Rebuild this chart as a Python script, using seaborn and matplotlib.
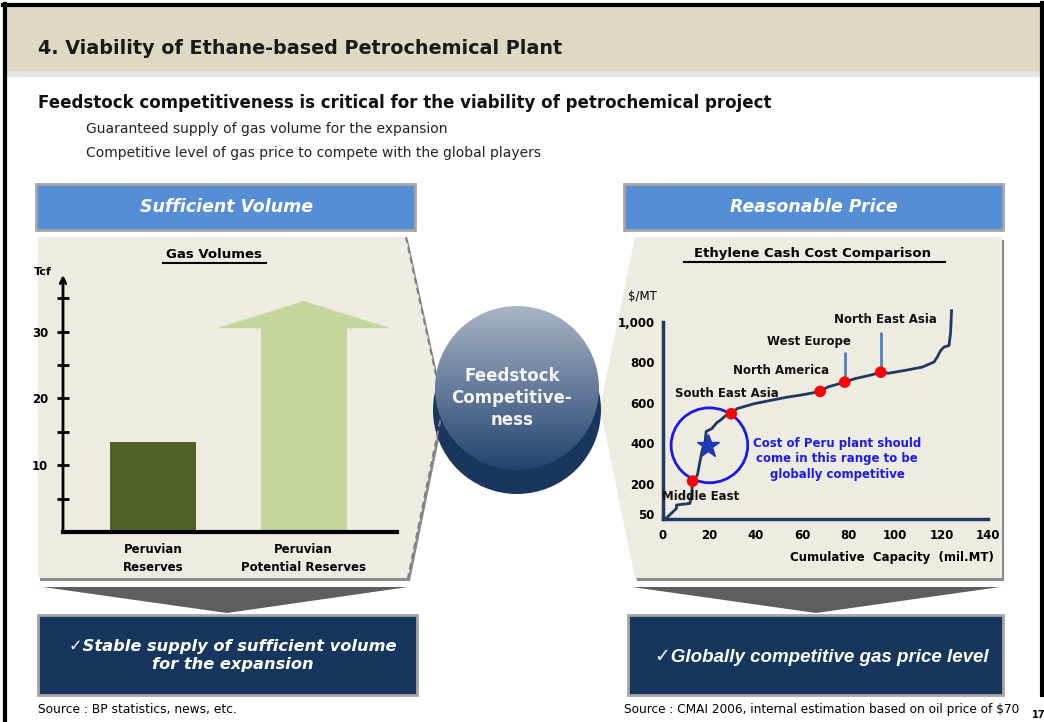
import numpy as np
import matplotlib.pyplot as plt
import seaborn as sns
from matplotlib.patches import Polygon, Rectangle, Circle, Ellipse

W, H = 1044, 722

# ---- data: gas volumes (Tcf) ----
gas_labels = ['Peruvian\nReserves', 'Peruvian\nPotential Reserves']
gas_tcf = [13.5, 30.5]
potential_tip = 34.6
gas_major_ticks = [10, 20, 30]
gas_minor_ticks = [5, 15, 25, 35]

# ---- data: ethylene cash cost curve ($/MT vs mil.MT) ----
cum_capacity = [1.5, 5.8, 5.8, 11.6, 12.3, 12.75, 14.8, 15.9, 16.7, 18.1, 18.6, 21.0,
                23.2, 24.6, 27.5, 29.4, 31.9, 39.1, 46.4, 53.6, 60.9, 67.7, 71.0, 78.3,
                82.6, 89.9, 93.8, 97.1, 104.3, 111.6, 116.7, 118.1, 119.6, 121.0,
                123.2, 123.9, 124.3]
cash_cost = [30, 77, 94, 102, 143, 212, 241, 307, 356, 406, 458, 471,
             501, 512, 540, 545, 570, 594, 611, 627, 640, 655, 677, 701,
             718, 737, 750, 745, 759, 775, 800, 824, 857, 874,
             882, 947, 1054]
region_names = ['Middle East', 'South East Asia', 'North America', 'West Europe', 'North East Asia']
region_cap = [12.75, 29.4, 67.7, 78.3, 93.8]
region_cost = [212, 545, 655, 701, 750]
cost_ticks = [50, 200, 400, 600, 800, 1000]
cost_tick_labels = ['50', '200', '400', '600', '800', '1,000']
cap_ticks = [0, 20, 40, 60, 80, 100, 120, 140]

navy = '#17365D'
blue_box = '#558ED5'
beige = '#EEECE1'
dark_green = '#4F6228'
light_green = '#C3D69B'


def fbox(x0, y0, x1, y1):
    return [x0 / W, 1 - y1 / H, (x1 - x0) / W, (y1 - y0) / H]


fig = plt.figure(figsize=(W / 100, H / 100), dpi=100)
bg = fig.add_axes([0, 0, 1, 1])
bg.axis('off')

sans = ['Liberation Sans', 'DejaVu Sans']

# header
bg.add_patch(Rectangle((5, 6), 1036, 65, color='#DDD9C3', lw=0))
bg.add_patch(Rectangle((5, 71), 1036, 6, color='#E6E6E6', lw=0))
bg.text(38, 49, '4. Viability of Ethane-based Petrochemical Plant', fontsize=13.8,
        fontweight='bold', va='center', color='#1a1a1a')
bg.text(38, 103, 'Feedstock competitiveness is critical for the viability of petrochemical project',
        fontsize=12, fontweight='bold', va='center', color='#111111')
bg.text(86, 129, 'Guaranteed supply of gas volume for the expansion', fontsize=10,
        va='center', color='#222222')
bg.text(86, 153, 'Competitive level of gas price to compete with the global players', fontsize=10,
        va='center', color='#222222')

# blue header boxes
for x0, label in [(36, 'Sufficient Volume'), (624, 'Reasonable Price')]:
    bg.add_patch(Rectangle((x0, 184), 379, 46, facecolor=blue_box, edgecolor='#A6A6A6', lw=2))
    bg.text(x0 + 190, 207, label, fontsize=12.5, fontweight='bold', style='italic',
            color='white', ha='center', va='center', family='DejaVu Sans')

# panels with shadows
left_pts = [(38, 237), (406, 237), (443, 407), (408, 578), (38, 578)]
right_pts = [(635, 237), (1002, 237), (1002, 578), (635, 578), (600, 407)]
bg.add_patch(Polygon([(x + 2, y + 3) for x, y in left_pts], color='#8C8C8C', lw=0))
bg.add_patch(Polygon([(x + 2, y + 3) for x, y in right_pts], color='#8C8C8C', lw=0))
bg.add_patch(Polygon(left_pts, color=beige, lw=0))
bg.add_patch(Polygon(right_pts, color=beige, lw=0))
bg.plot([406, 443, 408], [237, 407, 578], ls=(0, (3, 2)), color='#7F7F7F', lw=1.5)

# centre button
bg.add_patch(Circle((517, 410), 84, color='#1A365E', lw=0))
grad = np.linspace(0, 1, 200)[:, None]
top_c = np.array([0.66, 0.71, 0.77])
bot_c = np.array([0.14, 0.26, 0.44])
img = (top_c * (1 - grad) + bot_c * grad)[:, None, :]
disc = Circle((517, 388), 82, transform=bg.transData)
im = bg.imshow(img, extent=(434, 600, 470, 306), origin='upper', aspect='auto', zorder=3)
im.set_clip_path(disc)
bg.text(512, 398, 'Feedstock\nCompetitive-\nness', fontsize=12, fontweight='bold',
        color='#F4F4F4', ha='center', va='center', linespacing=1.3, zorder=4,
        family='DejaVu Sans')

# chevrons
bg.add_patch(Polygon([(43, 587), (408, 587), (227, 613)], color='#5E5E5E', lw=0))
bg.add_patch(Polygon([(632, 587), (1000, 587), (816, 613)], color='#5E5E5E', lw=0))

# navy conclusion boxes
bg.add_patch(Rectangle((38, 615), 379, 80, facecolor=navy, edgecolor='#A6A6A6', lw=2))
bg.add_patch(Rectangle((628, 615), 375, 80, facecolor=navy, edgecolor='#A6A6A6', lw=2))
bg.text(233, 655, '\u2713Stable supply of sufficient volume\nfor the expansion', fontsize=11.7,
        fontweight='bold', style='italic', color='white', ha='center', va='center',
        linespacing=1.25, family='DejaVu Sans')
bg.text(822, 657, '\u2713Globally competitive gas price level', fontsize=13.5,
        fontweight='bold', style='italic', color='white', ha='center', va='center',
        family=sans)

# sources
bg.text(38, 709, 'Source : BP statistics, news, etc.', fontsize=8.8, va='center')
bg.text(624, 709, 'Source : CMAI 2006, internal estimation based on oil price of $70',
        fontsize=8.7, va='center')
bg.text(1032, 715, '17', fontsize=7, fontweight='bold', va='center')

# outer frame
bg.plot([4.5, 4.5], [4, H + 5], color='black', lw=3)
bg.plot([3, 1043], [4.5, 4.5], color='black', lw=3)
bg.plot([1042, 1042], [3, 695], color='black', lw=3)

# chart titles
bg.text(214, 254, 'Gas Volumes', fontsize=9.5, fontweight='bold', ha='center', va='center')
bg.plot([163, 266], [263, 263], color='black', lw=1.5)
bg.text(812, 253, 'Ethylene Cash Cost Comparison', fontsize=9.5, fontweight='bold',
        ha='center', va='center')
bg.plot([684, 945], [262, 262], color='black', lw=1.5)
bg.text(43, 272, 'Tcf', fontsize=8, fontweight='bold', ha='center', va='center')
bg.text(642, 297, '$/MT', fontsize=8.5, ha='center', va='center')
bg.text(892, 558, 'Cumulative  Capacity  (mil.MT)', fontsize=8.5, fontweight='bold',
        ha='center', va='center')

bg.set_xlim(0, W)
bg.set_ylim(H, 0)

# ---- left chart ----
ax1 = fig.add_axes(fbox(63, 275, 397, 532))
ax1.set_facecolor('none')
sns.barplot(x=gas_labels, y=gas_tcf, hue=gas_labels, palette=[dark_green, light_green],
            legend=False, width=0.57, saturation=1, ax=ax1)
ax1.fill([1 - 0.58, 1, 1 + 0.58], [gas_tcf[1], potential_tip, gas_tcf[1]],
         color=light_green, lw=0)
ax1.set_xlim(-0.6, 1.62)
ax1.set_ylim(0, 38.5)
for s in ['top', 'right', 'left']:
    ax1.spines[s].set_visible(False)
ax1.spines['bottom'].set_linewidth(3)
ax1.annotate('', xy=(0, 1), xycoords='axes fraction', xytext=(0, 0),
             textcoords='axes fraction',
             arrowprops=dict(arrowstyle='->', lw=2, color='black', shrinkA=0, shrinkB=0))
ax1.set_yticks(gas_major_ticks)
ax1.set_yticks(gas_minor_ticks, minor=True)
ax1.set_yticklabels([str(v) for v in gas_major_ticks], fontweight='bold', fontsize=8.5)
ax1.tick_params(axis='y', which='both', direction='inout', length=9, width=2, pad=6)
ax1.set_xticks([0, 1])
ax1.set_xticklabels(gas_labels, fontweight='bold', fontsize=8.5, linespacing=1.5)
ax1.tick_params(axis='x', length=0, pad=8)
ax1.set_xlabel('')
ax1.set_ylabel('')

# ---- right chart ----
ax2 = fig.add_axes(fbox(663, 305.4, 988, 519))
ax2.set_facecolor('none')
sns.lineplot(x=cum_capacity, y=cash_cost, sort=False, estimator=None, color='#1F3864',
             linewidth=2, ax=ax2)
ax2.vlines([region_cap[3], region_cap[4]], [region_cost[3], region_cost[4]], [849, 947],
           color='#4F81BD', lw=2)
sns.scatterplot(x=region_cap, y=region_cost, color='#FF0000', s=70, edgecolor='none',
                zorder=5, ax=ax2)
ax2.add_patch(Ellipse((20, 389), 33, 370, fill=False, ec='#1A1AE6', lw=2))
ax2.plot([19.5], [385], marker='*', ms=17, color='#1F3AB5', ls='none')
label_pos = [(16, 138), (27.5, 644), (50.7, 757), (63, 901), (95.7, 1010)]
for name, (lx, ly) in zip(region_names, label_pos):
    ax2.text(lx, ly, name, fontsize=8.5, fontweight='bold', ha='center', va='center',
             color='#111111')
ax2.text(75, 323, 'Cost of Peru plant should\ncome in this range to be\nglobally competitive',
         fontsize=8.5, fontweight='bold', color='#1A1AF0', ha='center', va='center',
         linespacing=1.25)
ax2.set_xlim(0, 140)
ax2.set_ylim(25, 1080)
for s in ['top', 'right']:
    ax2.spines[s].set_visible(False)
ax2.spines['left'].set_bounds(25, 1000)
ax2.spines['left'].set_color('#1F3864')
ax2.spines['left'].set_linewidth(2.5)
ax2.spines['bottom'].set_color('#1F3864')
ax2.spines['bottom'].set_linewidth(2.5)
ax2.set_yticks(cost_ticks)
ax2.set_yticklabels(cost_tick_labels, fontweight='bold', fontsize=8.5)
ax2.set_xticks(cap_ticks)
ax2.set_xticklabels([str(v) for v in cap_ticks], fontweight='bold', fontsize=8.5)
ax2.tick_params(axis='y', length=0, pad=6)
ax2.tick_params(axis='x', length=0, pad=7)
ax2.set_xlabel('')
ax2.set_ylabel('')

fig.savefig('out.png', dpi=100)
